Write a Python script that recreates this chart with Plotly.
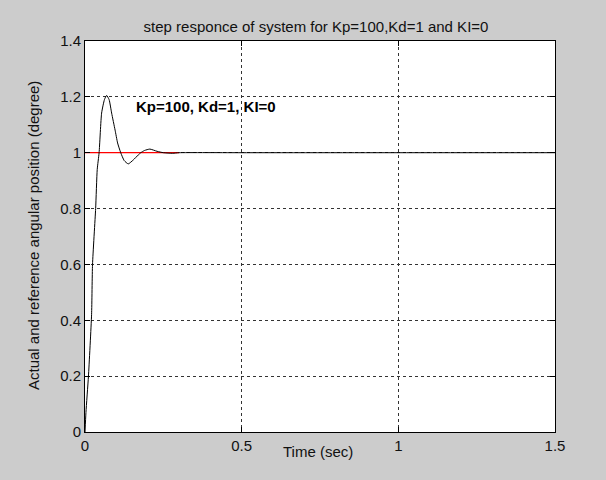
import plotly.graph_objects as go

# response data
t_resp = [0, 0.003, 0.011, 0.021, 0.024, 0.034, 0.039, 0.045, 0.053, 0.062, 0.069,
          0.077, 0.085, 0.096, 0.104, 0.114, 0.125, 0.138, 0.154, 0.17, 0.178,
          0.19, 0.207, 0.23, 0.25, 0.28, 0.3, 0.5, 1.0, 1.5]
y_resp = [0, 0.07, 0.2, 0.42, 0.6, 0.8, 0.94, 1.0, 1.142, 1.19, 1.205,
          1.19, 1.142, 1.081, 1.035, 1.0, 0.972, 0.96, 0.974, 0.992, 1.0,
          1.008, 1.013, 1.005, 1.0, 0.998, 1.0, 1.0, 1.0, 1.0]
t_ref = [0, 0.3]
y_ref = [1, 1]

x_ticks = [0, 0.5, 1, 1.5]
x_ticklabels = ["0", "0.5", "1", "1.5"]
y_ticks = [0, 0.2, 0.4, 0.6, 0.8, 1, 1.2, 1.4]
y_ticklabels = ["0", "0.2", "0.4", "0.6", "0.8", "1", "1.2", "1.4"]

font = "Liberation Sans, Arial, sans-serif"
W, H = 606, 480
l, r, t, b = 85, 51, 41, 48
pw, ph = W - l - r, H - t - b


def px_to_paper(px, py):
    return (px - l) / pw, 1 - (py - t) / ph


fig = go.Figure()
fig.add_trace(go.Scatter(x=t_ref, y=y_ref, mode="lines",
                         line=dict(color="#ff0000", width=1.2), showlegend=False))
fig.add_trace(go.Scatter(x=t_resp, y=y_resp, mode="lines",
                         line=dict(color="#000000", width=1, shape="spline", smoothing=0.5),
                         showlegend=False))

axis_common = dict(showline=True, linecolor="black", linewidth=1, mirror="ticks",
                   ticks="inside", ticklen=5, tickcolor="black",
                   showgrid=True, gridcolor="#333333", gridwidth=1, griddash="3px,3px",
                   zeroline=False, tickfont=dict(family=font, size=15, color="#111111"))

fig.update_xaxes(range=[0, 1.5], tickvals=x_ticks, ticktext=x_ticklabels, **axis_common)
fig.update_yaxes(range=[0, 1.4], tickvals=y_ticks, ticktext=y_ticklabels, **axis_common)

xl_x, xl_y = px_to_paper(318, 451)
yl_x, yl_y = px_to_paper(33, 236)

fig.update_layout(
    width=W, height=H,
    margin=dict(l=l, r=r, t=t, b=b),
    paper_bgcolor="#cccccc", plot_bgcolor="white",
    title=dict(text="step responce of system for Kp=100,Kd=1 and KI=0",
               x=(140 + 492) / 2 / W, xanchor="center", xref="container",
               y=1 - 27 / H, yanchor="middle", yref="container",
               font=dict(family=font, size=15, color="#111111")),
    annotations=[
        dict(text="Kp=100, Kd=1, KI=0", x=0.156, y=1.164, xref="x", yref="y",
             xanchor="left", yanchor="middle", showarrow=False,
             font=dict(family=font, size=15, color="black", weight="bold")),
        dict(text="Time (sec)", x=xl_x, y=xl_y, xref="paper", yref="paper",
             xanchor="center", yanchor="middle", showarrow=False,
             font=dict(family=font, size=15, color="#111111")),
        dict(text="Actual and reference angular position (degree)", x=yl_x,
             y=yl_y, xref="paper", yref="paper", textangle=-90,
             xanchor="center", yanchor="middle", showarrow=False,
             font=dict(family=font, size=15, color="#111111")),
    ],
)

fig.write_html("out.html", config={"displayModeBar": False},
               post_script="document.body.style.margin='0';document.documentElement.style.margin='0';document.body.style.background='#cccccc';")
